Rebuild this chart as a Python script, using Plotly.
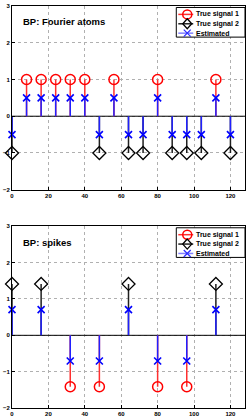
import plotly.graph_objects as go

# ---- data ----
top_title = "BP: Fourier atoms"
top_sig1_x = [8, 16, 24, 32, 40, 56, 80, 112]
top_sig1_y = [1, 1, 1, 1, 1, 1, 1, 1]
top_sig2_x = [0, 48, 64, 72, 88, 96, 104, 120]
top_sig2_y = [-1, -1, -1, -1, -1, -1, -1, -1]
top_est_x = [0, 8, 16, 24, 32, 40, 48, 56, 64, 72, 80, 88, 96, 104, 112, 120]
top_est_y = [-0.5, 0.5, 0.5, 0.5, 0.5, 0.5, -0.5, 0.5, -0.5, -0.5, 0.5, -0.5, -0.5, -0.5, 0.5, -0.5]

bot_title = "BP: spikes"
bot_sig1_x = [32, 48, 80, 96]
bot_sig1_y = [-1.414, -1.414, -1.414, -1.414]
bot_sig2_x = [0, 16, 64, 112]
bot_sig2_y = [1.414, 1.414, 1.414, 1.414]
bot_est_x = [0, 16, 32, 48, 64, 80, 96, 112]
bot_est_y = [0.707, 0.707, -0.707, -0.707, 0.707, -0.707, -0.707, 0.707]

names = ["True signal 1", "True signal 2", "Estimated"]
x_ticks = [0, 20, 40, 60, 80, 100, 120]
y_ticks = [-2, -1, 0, 1, 2, 3]
x_range = [0, 128]
y_range = [-2, 3]

RED, BLACK, BLUE = "#ff0000", "#000000", "#0000ff"

W, H = 249, 420
ML, MR, MT, MB = 12, 3, 5, 8
PW = W - ML - MR
PH = H - MT - MB
TOP_DOM = [0.543, 1.0]
BOT_DOM = [0.0, 0.452]


def stems(xs, ys):
    sx, sy = [], []
    for x, y in zip(xs, ys):
        sx += [x, x, None]
        sy += [0, y, None]
    return sx, sy


fig = go.Figure()
shapes = []
annotations = []


def add_panel(idx, title, dom, s1x, s1y, s2x, s2y, ex, ey):
    xa = "x" if idx == 1 else "x2"
    ya = "y" if idx == 1 else "y2"
    fig.add_trace(go.Scatter(x=x_range, y=[0, 0], mode="lines",
                             line=dict(color=BLACK, width=1), showlegend=False,
                             xaxis=xa, yaxis=ya, hoverinfo="skip"))
    for xs, ys, col in [(s1x, s1y, "#ff3030"), (s2x, s2y, "#202020"), (ex, ey, "#2020ff")]:
        sx, sy = stems(xs, ys)
        fig.add_trace(go.Scatter(x=sx, y=sy, mode="lines",
                                 line=dict(color=col, width=1.5), showlegend=False,
                                 xaxis=xa, yaxis=ya, hoverinfo="skip"))
    fig.add_trace(go.Scatter(x=s1x, y=s1y, mode="markers", cliponaxis=False, name=names[0],
                             marker=dict(symbol="circle-open", size=10, color=RED,
                                         line=dict(width=1.5, color=RED)),
                             showlegend=False, xaxis=xa, yaxis=ya))
    fig.add_trace(go.Scatter(x=s2x, y=s2y, mode="markers", cliponaxis=False, name=names[1],
                             marker=dict(symbol="diamond-open", size=10, color=BLACK,
                                         line=dict(width=1.3, color=BLACK)),
                             showlegend=False, xaxis=xa, yaxis=ya))
    fig.add_trace(go.Scatter(x=ex, y=ey, mode="markers", cliponaxis=False, name=names[2],
                             marker=dict(symbol="x-thin-open", size=7, color=BLUE,
                                         line=dict(width=1.6, color=BLUE)),
                             showlegend=False, xaxis=xa, yaxis=ya))

    ax_h = (dom[1] - dom[0]) * PH
    xr = f"{xa} domain"
    yr = f"{ya} domain"

    def dx(px):
        return px / PW

    def dy(px):
        return 1 - px / ax_h

    annotations.append(dict(text=title, x=dx(9.5), y=dy(16), xref=xr, yref=yr,
                            xanchor="left", yanchor="middle", showarrow=False,
                            font=dict(size=9.5, family="Liberation Sans", color="black",
                                      weight="bold")))
    bl = PW - 69
    shapes.append(dict(type="rect", xref=xr, yref=yr, x0=dx(bl), x1=1, y0=dy(1.5), y1=dy(31.5),
                       fillcolor="white", line=dict(color="black", width=1), layer="above"))
    rows = [8.5, 18, 27.5]
    specs = [(RED, "#ff3030", "circle"), (BLACK, "#202020", "diamond"), ("#3030ff", "#8080ff", "x")]
    for (mcol, lcol, sym), nm, ry in zip(specs, names, rows):
        shapes.append(dict(type="line", xref=xr, yref=yr, x0=dx(bl + 2), x1=dx(bl + 17),
                           y0=dy(ry), y1=dy(ry), line=dict(color=lcol, width=1.5), layer="above"))
        anc = dict(xref=xr, yref=yr, xsizemode="pixel", ysizemode="pixel",
                   xanchor=dx(bl + 11), yanchor=dy(ry), layer="above")
        if sym == "circle":
            shapes.append(dict(type="circle", x0=-4.5, x1=4.5, y0=-4.5, y1=4.5,
                               line=dict(color=mcol, width=1.5), **anc))
        elif sym == "diamond":
            shapes.append(dict(type="path", path="M 0,5 L 4.5,0 L 0,-5 L -4.5,0 Z",
                               line=dict(color=mcol, width=1.3), **anc))
        else:
            shapes.append(dict(type="path", path="M -3.5,-3.5 L 3.5,3.5 M -3.5,3.5 L 3.5,-3.5",
                               line=dict(color=mcol, width=1.3), **anc))
        annotations.append(dict(text=nm, x=dx(bl + 18), y=dy(ry), xref=xr, yref=yr,
                                xanchor="left", yanchor="middle", showarrow=False,
                                font=dict(size=7, family="Liberation Sans", color="black",
                                          weight="bold")))


add_panel(1, top_title, TOP_DOM, top_sig1_x, top_sig1_y, top_sig2_x, top_sig2_y, top_est_x, top_est_y)
add_panel(2, bot_title, BOT_DOM, bot_sig1_x, bot_sig1_y, bot_sig2_x, bot_sig2_y, bot_est_x, bot_est_y)

axis_common = dict(showline=True, linecolor="black", linewidth=1, mirror=True,
                   showgrid=True, gridcolor="#b0b0b0", griddash="dot", gridwidth=1,
                   zeroline=False, ticks="inside", ticklen=3, tickcolor="black",
                   tickfont=dict(size=6, color="black", family="Liberation Sans", weight="bold"))

fig.update_layout(
    width=W, height=H,
    margin=dict(l=ML, r=MR, t=MT, b=MB),
    paper_bgcolor="white", plot_bgcolor="white",
    showlegend=False,
    xaxis=dict(domain=[0, 1], range=x_range, tickvals=x_ticks, anchor="y", **axis_common),
    yaxis=dict(domain=TOP_DOM, range=y_range, tickvals=y_ticks, anchor="x", **axis_common),
    xaxis2=dict(domain=[0, 1], range=x_range, tickvals=x_ticks, anchor="y2", **axis_common),
    yaxis2=dict(domain=BOT_DOM, range=y_range, tickvals=y_ticks, anchor="x2", **axis_common),
    shapes=shapes,
    annotations=annotations,
)

fig.write_html("out.html", config={"displayModeBar": False})
with open("out.html", encoding="utf-8") as f:
    html = f.read()
html = html.replace("<head>", "<head><style>html,body{margin:0;padding:0;overflow:hidden;}</style>", 1)
with open("out.html", "w", encoding="utf-8") as f:
    f.write(html)
